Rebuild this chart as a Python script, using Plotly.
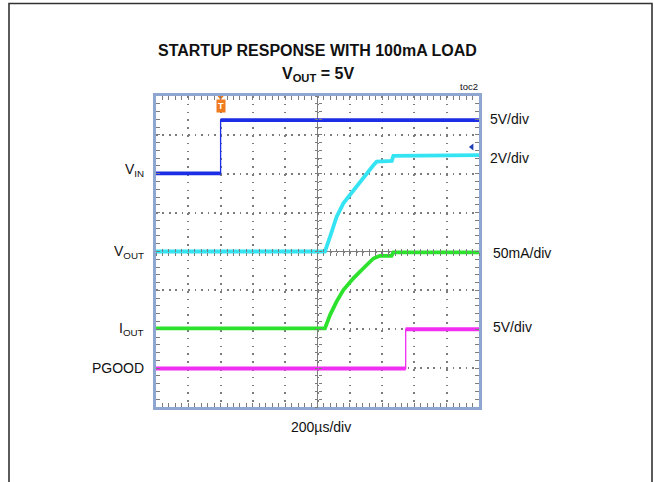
import plotly.graph_objects as go

# ---------------- data (in scope divisions: x 0..10, y 0..8) ----------------
vin_t = [0.0, 2.0, 2.0, 10.0]
vin_v = [6.01, 6.01, 7.38, 7.38]

vout_t = [0.0, 5.23, 5.39, 5.59, 5.80, 6.11, 6.42, 6.73, 6.83, 7.30, 7.35, 10.0]
vout_v = [4.0, 4.0, 4.38, 4.89, 5.24, 5.58, 5.92, 6.22, 6.31, 6.33, 6.46, 6.48]

iout_t = [0.0, 5.23, 5.39, 5.59, 5.80, 6.11, 6.42, 6.73, 6.93, 7.29, 7.35, 10.0]
iout_v = [2.02, 2.02, 2.37, 2.71, 3.01, 3.31, 3.57, 3.82, 3.89, 3.89, 3.98, 3.98]

pg_t = [0.0, 7.73, 7.73, 10.0]
pg_v = [0.99, 0.99, 2.0, 2.0]

trigger_t = 2.0
ref_marker = (9.78, 6.69)

left_labels = ["V<sub>IN</sub>", "V<sub>OUT</sub>", "I<sub>OUT</sub>", "PGOOD"]
left_label_y = [170, 251.5, 328.5, 368]
right_labels = ["5V/div", "2V/div", "50mA/div", "5V/div"]
right_label_y = [119, 157.5, 253, 326.7]
right_label_x = [488.5, 488.5, 490.5, 490.5]

title1 = "STARTUP RESPONSE WITH 100mA LOAD"
title2 = "V<sub>OUT</sub> = 5V"
xlabel = "200\u00b5s/div"
tag = "toc2"

# ---------------- layout helpers ----------------
W_FIG, H_FIG = 654, 482
L, R, T, B = 156, 479, 96, 407
PW, PH = R - L, B - T


def px(x):
    return (x - L) / PW


def py(y):
    return (B - y) / PH


FONT = "Liberation Sans, Arial, sans-serif"
GRID = "#7c7c7c"
BORDER = "#8ea6d0"

C_VIN = "#1c2de6"
C_VOUT = "#35e4f2"
C_IOUT = "#2de22d"
C_PG = "#f22ef2"


def split_steps(t, v):
    """insert breaks at vertical steps so flat parts can be drawn thick"""
    xs, ys = [t[0]], [v[0]]
    for i in range(1, len(t)):
        if t[i] == t[i - 1]:
            xs.append(None)
            ys.append(None)
        xs.append(t[i])
        ys.append(v[i])
    return xs, ys


fig = go.Figure()

for t, v, c in [(vin_t, vin_v, C_VIN), (pg_t, pg_v, C_PG)]:
    fig.add_trace(go.Scatter(x=t, y=v, mode="lines", line=dict(color=c, width=1.3),
                             hoverinfo="skip", showlegend=False))
    xs, ys = split_steps(t, v)
    fig.add_trace(go.Scatter(x=xs, y=ys, mode="lines", line=dict(color=c, width=3.8),
                             hoverinfo="skip", showlegend=False))

for t, v, c in [(vout_t, vout_v, C_VOUT), (iout_t, iout_v, C_IOUT)]:
    fig.add_trace(go.Scatter(x=t, y=v, mode="lines", line=dict(color=c, width=3.8),
                             hoverinfo="skip", showlegend=False))

# trigger marker
fig.add_trace(go.Scatter(x=[trigger_t], y=[8.0], mode="markers", cliponaxis=False,
                         marker=dict(symbol="triangle-down", size=8, color="#f07a1e"),
                         hoverinfo="skip", showlegend=False))
# reference arrow marker
fig.add_trace(go.Scatter(x=[ref_marker[0]], y=[ref_marker[1]], mode="markers",
                         marker=dict(symbol="triangle-left", size=6, color="#1f3fb0"),
                         hoverinfo="skip", showlegend=False))

# empty traces to bring up the center-line tick axes
fig.add_trace(go.Scatter(x=[], y=[], xaxis="x2", yaxis="y", showlegend=False))
fig.add_trace(go.Scatter(x=[], y=[], xaxis="x3", yaxis="y", showlegend=False))
fig.add_trace(go.Scatter(x=[], y=[], xaxis="x", yaxis="y2", showlegend=False))
fig.add_trace(go.Scatter(x=[], y=[], xaxis="x", yaxis="y3", showlegend=False))

minor_x = dict(dtick=0.2, ticks="inside", ticklen=3, tickcolor=GRID, tickwidth=1, showgrid=False)
minor_y = dict(dtick=0.2, ticks="inside", ticklen=3, tickcolor=GRID, tickwidth=1, showgrid=False)

fig.update_layout(
    width=W_FIG, height=H_FIG,
    margin=dict(l=L, r=W_FIG - R, t=T, b=H_FIG - B),
    paper_bgcolor="white", plot_bgcolor="white",
    font=dict(family=FONT, color="#111"),
    xaxis=dict(range=[0, 10], dtick=1, showgrid=True, gridcolor=GRID, gridwidth=1.6,
               griddash="1.6px,6.2px", zeroline=False, showticklabels=False,
               ticks="inside", ticklen=4, tickcolor=GRID, minor=minor_x,
               showline=True, linecolor=BORDER, linewidth=3, mirror="allticks",
               fixedrange=True),
    yaxis=dict(range=[0, 8], dtick=1, showgrid=True, gridcolor=GRID, gridwidth=1.6,
               griddash="1.6px,4.85px", zeroline=False, showticklabels=False,
               ticks="inside", ticklen=4, tickcolor=GRID, minor=minor_y,
               showline=True, linecolor=BORDER, linewidth=3, mirror="allticks",
               fixedrange=True),
    xaxis2=dict(range=[0, 10], overlaying="x", anchor="free", position=0.5, side="bottom",
                showgrid=False, zeroline=False, showticklabels=False, showline=False,
                ticks="inside", ticklen=3, tickcolor=GRID, dtick=1,
                minor=dict(dtick=0.2, ticks="inside", ticklen=3, tickcolor=GRID)),
    xaxis3=dict(range=[0, 10], overlaying="x", anchor="free", position=0.5, side="bottom",
                showgrid=False, zeroline=False, showticklabels=False, showline=False,
                ticks="outside", ticklen=3, tickcolor=GRID, dtick=1,
                minor=dict(dtick=0.2, ticks="outside", ticklen=3, tickcolor=GRID)),
    yaxis2=dict(range=[0, 8], overlaying="y", anchor="free", position=0.5, side="left",
                showgrid=False, zeroline=False, showticklabels=False, showline=False,
                ticks="inside", ticklen=3, tickcolor=GRID, dtick=1,
                minor=dict(dtick=0.2, ticks="inside", ticklen=3, tickcolor=GRID)),
    yaxis3=dict(range=[0, 8], overlaying="y", anchor="free", position=0.5, side="left",
                showgrid=False, zeroline=False, showticklabels=False, showline=False,
                ticks="outside", ticklen=3, tickcolor=GRID, dtick=1,
                minor=dict(dtick=0.2, ticks="outside", ticklen=3, tickcolor=GRID)),
)

shapes = [
    # center crosshair
    dict(type="line", xref="x", yref="paper", x0=5, x1=5, y0=0, y1=1,
         line=dict(color=GRID, width=1), layer="below"),
    dict(type="line", xref="paper", yref="y", x0=0, x1=1, y0=4, y1=4,
         line=dict(color=GRID, width=1), layer="below"),
    # outer frame (open at bottom)
    dict(type="path", xref="paper", yref="paper",
         path=f"M {px(9)} {py(490)} L {px(9)} {py(3.5)} L {px(652)} {py(3.5)} L {px(652)} {py(490)}",
         line=dict(color="#333333", width=1.6)),
]
fig.update_layout(shapes=shapes)

ann = []
ann.append(dict(x=px(317.5), y=py(51), text=f"<b>{title1}</b>", font=dict(size=16)))
ann.append(dict(x=px(317.5), y=py(74), text=f"<b>{title2}</b>", font=dict(size=16)))
ann.append(dict(x=px(480), y=py(86), text=tag, xanchor="right", font=dict(size=9.5)))
ann.append(dict(x=px(320.5), y=py(427), text=xlabel, font=dict(size=14)))
for txt, yy in zip(left_labels, left_label_y):
    ann.append(dict(x=px(146), y=py(yy), text=txt, xanchor="right", font=dict(size=14)))
for txt, yy, xx in zip(right_labels, right_label_y, right_label_x):
    ann.append(dict(x=px(xx), y=py(yy), text=txt, xanchor="left", font=dict(size=14)))
# trigger "T" tag
ann.append(dict(x=trigger_t, xref="x", y=py(106), yref="paper", text="<b>T</b>",
                font=dict(size=9, color="white"), bgcolor="#f07a1e", borderpad=1,
                showarrow=False))
for a in ann:
    a.setdefault("xref", "paper")
    a.setdefault("yref", "paper")
    a.setdefault("showarrow", False)
    a.setdefault("yanchor", "middle")
    a.setdefault("xanchor", "center")
fig.update_layout(annotations=ann)

fig.write_html("out.html", config={"displayModeBar": False},
               post_script="document.body.style.margin='0';document.body.style.overflow='hidden';")
